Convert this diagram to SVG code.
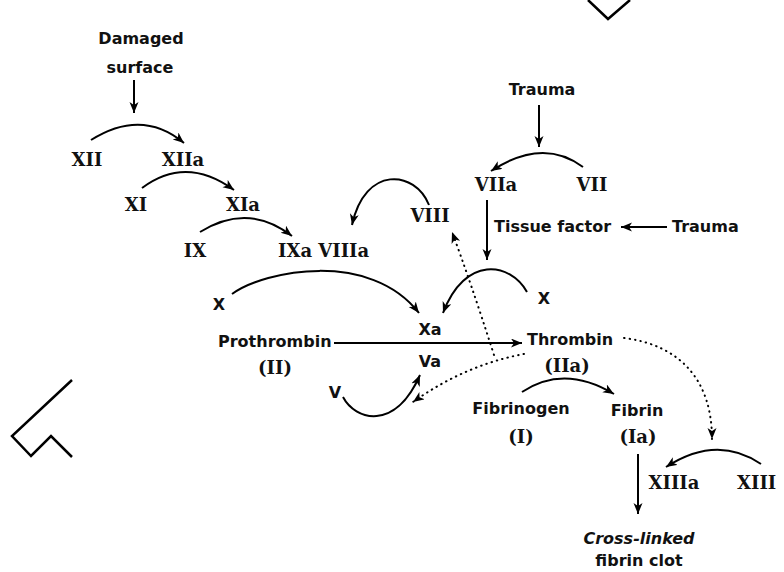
<svg xmlns="http://www.w3.org/2000/svg" width="784" height="572" viewBox="0 0 784 572">
<defs>
<marker id="ah" markerUnits="userSpaceOnUse" markerWidth="12" markerHeight="10" refX="11" refY="4.5" orient="auto">
<path d="M0,0 L11,4.5 L0,9 L3,4.5 z" fill="#000"/>
</marker>
<style>
.w{font-family:"DejaVu Sans","Liberation Sans",sans-serif;font-weight:bold;font-size:16px;fill:#111}
.r{font-family:"DejaVu Serif","Liberation Serif",serif;font-weight:bold;font-size:18px;fill:#111}
.it{font-style:italic}
.m{text-anchor:middle}
.c{fill:none;stroke:#000;stroke-width:2}
.d{fill:none;stroke:#000;stroke-width:2;stroke-dasharray:0.5 5;stroke-linecap:round}
.wm{fill:none;stroke:#000;stroke-width:2.5;stroke-linejoin:miter}
</style>
</defs>
<rect width="784" height="572" fill="#fff"/>
<g id="watermark">
<polyline class="wm" points="588,0 608,19 630,0"/>
<polyline class="wm" points="72,380 12,436 31,456 51,436 72,457"/>
</g>
<g id="connectors">
<path class="c" d="M134,80 V113" marker-end="url(#ah)"/>
<path class="c" d="M91,140 Q142,108 184,143" marker-end="url(#ah)"/>
<path class="c" d="M142,188 Q186,155 234,190" marker-end="url(#ah)"/>
<path class="c" d="M200,232 Q248,202 292,236" marker-end="url(#ah)"/>
<path class="c" d="M539,105 V147" marker-end="url(#ah)"/>
<path class="c" d="M583,167 Q543,137 491,171" marker-end="url(#ah)"/>
<path class="c" d="M429,205 C415,170 365,165 352,225" marker-end="url(#ah)"/>
<path class="c" d="M487,200 V260" marker-end="url(#ah)"/>
<path class="c" d="M667,227 H621" marker-end="url(#ah)"/>
<path class="c" d="M232,294 C265,270 370,250 419,313" marker-end="url(#ah)"/>
<path class="c" d="M527,292 C510,262 465,255 443,313" marker-end="url(#ah)"/>
<path class="c" d="M334,343 H522" marker-end="url(#ah)"/>
<path class="c" d="M343,397 C355,420 395,432 420,375" marker-end="url(#ah)"/>
<path class="d" d="M524,354 Q465,365 413,402" marker-end="url(#ah)"/>
<path class="d" d="M494,355 Q470,280 452,232" marker-end="url(#ah)"/>
<path class="d" d="M624,338 C680,345 712,380 712,439" marker-end="url(#ah)"/>
<path class="c" d="M522,392 Q564,364 614,394" marker-end="url(#ah)"/>
<path class="c" d="M638,454 V514" marker-end="url(#ah)"/>
<path class="c" d="M761,464 Q717,434 666,467" marker-end="url(#ah)"/>
</g>
<g id="damaged"><text class="w m" x="141" y="44">Damaged</text><text class="w m" x="140" y="73">surface</text></g>
<g id="xii"><text class="r m" x="87" y="166">XII</text></g>
<g id="xiia"><text class="r m" x="183" y="166">XIIa</text></g>
<g id="xi"><text class="r m" x="136" y="211">XI</text></g>
<g id="xia"><text class="r m" x="243" y="211">XIa</text></g>
<g id="ix"><text class="r m" x="195" y="257">IX</text></g>
<g id="ixa-viiia"><text class="r" x="278" y="257">IXa VIIIa</text></g>
<g id="trauma1"><text class="w m" x="542" y="95">Trauma</text></g>
<g id="viia"><text class="r m" x="496" y="191">VIIa</text></g>
<g id="vii"><text class="r m" x="592" y="191">VII</text></g>
<g id="viii"><text class="r m" x="430" y="222">VIII</text></g>
<g id="tissue"><text class="w" x="494" y="232">Tissue factor</text></g>
<g id="trauma2"><text class="w" x="672" y="232">Trauma</text></g>
<g id="x1"><text class="w m" x="219" y="310">X</text></g>
<g id="x2"><text class="w m" x="544" y="304">X</text></g>
<g id="xa"><text class="w m" x="430" y="335">Xa</text></g>
<g id="va"><text class="w m" x="430" y="367">Va</text></g>
<g id="v"><text class="w m" x="335" y="398">V</text></g>
<g id="prothrombin"><text class="w" x="218" y="347">Prothrombin</text><text class="r m" x="275" y="374">(II)</text></g>
<g id="thrombin"><text class="w" x="527" y="345">Thrombin</text><text class="r m" x="567" y="372">(IIa)</text></g>
<g id="fibrinogen"><text class="w m" x="521" y="414">Fibrinogen</text><text class="r m" x="521" y="443">(I)</text></g>
<g id="fibrin"><text class="w m" x="637" y="416">Fibrin</text><text class="r m" x="638" y="443">(Ia)</text></g>
<g id="xiiia"><text class="r m" x="674" y="489">XIIIa</text></g>
<g id="xiii"><text class="r" x="737" y="489">XIII</text></g>
<g id="clot"><text class="w m it" x="639" y="544">Cross-linked</text><text class="w m" x="639" y="566">fibrin clot</text></g>
</svg>
